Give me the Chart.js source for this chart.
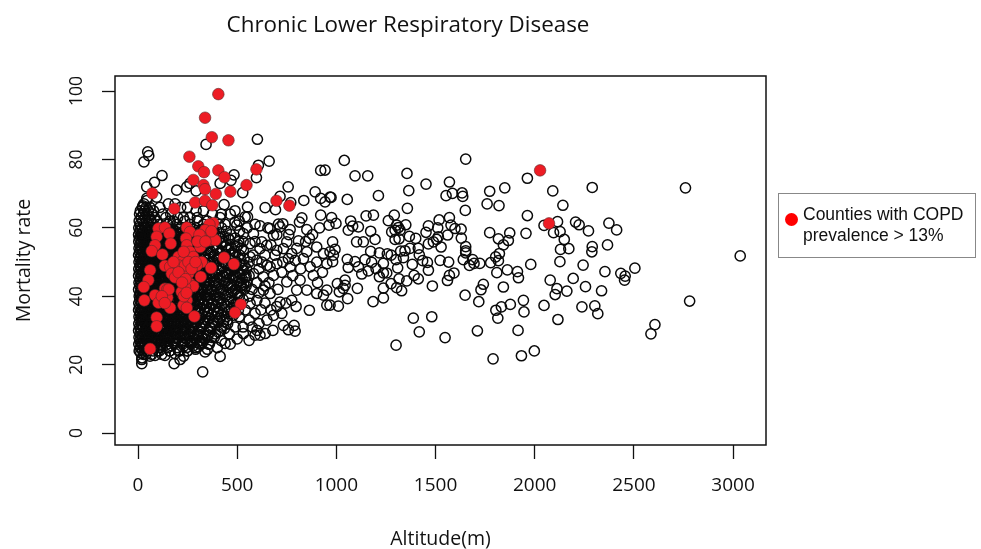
<!DOCTYPE html>
<html lang="en">
<head>
  <meta charset="UTF-8" />
  <title>Chronic Lower Respiratory Disease</title>
  <script src="https://cdn.jsdelivr.net/npm/chart.js"></script>
  <style>
    body { margin: 0; background: #fff; width: 981px; height: 549px; position: relative; overflow: hidden; }
    canvas { position: absolute; left: 0; top: 0; }
    #title { position: absolute; left: 108px; width: 600px; top: 8px; text-align: center; font: 22.4px "Open Sans", sans-serif; color: #111; }
    #legend { position: absolute; left: 778px; top: 193px; width: 196px; height: 63px; border: 1px solid #888; font: 17.5px/21px "Liberation Sans", sans-serif; color: #111; }
    #legend i { position: absolute; left: 6px; top: 19px; width: 13px; height: 13px; border-radius: 50%; background: #ff0000; }
    #legend span { position: absolute; left: 24px; top: 10px; white-space: nowrap; }
  </style>
</head>
<body>
  <canvas id="chart" width="981" height="549"></canvas>
  <div id="title">Chronic Lower Respiratory Disease</div>
  <div id="legend"><i></i><span>Counties with COPD<br>prevalence &gt; 13%</span></div>

  <script>
    const xTicks = [0, 500, 1000, 1500, 2000, 2500, 3000];
    const yTicks = [0, 20, 40, 60, 80, 100];

    // red counties, [altitude, mortality]
    const redCounties = [
      [405,99.1],[338,92.2],[372,86.5],[456,85.6],[259,80.8],[304,78],[333,76.3],[405,76.8],[436,74.8],[597,77.1],
      [279,74],[330,72.5],[338,71.3],[392,69.9],[466,70.6],[547,72.5],[72,70.1],[288,67.4],[338,67.9],[375,66.6],
      [183,65.6],[698,67.9],[763,66.5],[2027,76.8],[2072,61.3],
      [380,61.4],[360,61],[338,59.3],[321,57.4],[363,56.4],[389,56.4],[313,54.4],
      [103,59.8],[136,60.1],[158,58.3],[94,57.4],[86,54.9],[165,55.4],[69,53.2],[123,52.2],
      [246,60.1],[262,58.8],[242,56.9],[246,54.9],[262,53],[204,51.5],[237,51.5],[279,51.5],[321,50],[220,50],
      [262,49.5],[296,49],[136,48.9],[162,48.6],[170,46.6],[187,45.5],[220,47.6],[254,46.6],[316,45.7],[368,48.3],
      [434,51.3],[483,49.4],[61,47.6],[52,44.7],[29,42.7],[136,42.2],[148,42],[262,43.7],[279,42.9],[237,42.7],
      [220,41.3],[86,40.3],[148,39.6],[103,38.1],[32,38.8],[246,38.8],[229,37.4],[246,36.6],[162,36.6],[284,34.1],
      [518,37.6],[489,35.2],[94,33.8],[94,31.2],[61,24.6],
      [204,49],[230,53],[237,49],[254,50],[270,48],[290,50],[204,47],[179,50],[240,45],[231,40],
      [222,44],[245,41],[155,42],[120,40],[135,38],[310,58],[300,56],[370,59],[340,56]
    ];

    // the saturated mass near sea level, one list of altitudes per mortality rate
    const coreRates = [68,67,66,65,64,63,62,61,60,59,58,57,56,55,54,53,52,51,50,49,48,47,46,45,44,43,42,41,40,39,38,37,36,35,34,33,32,31,30,29,28,27,26,25,24,23,22];
    const coreAltitudes = [
      [45],
      [30,153,187],
      [22,41,60,249],
      [12,33,52,78,293],
      [8,27,45,70,125],
      [15,36,58,84,140,229,262,299,414],
      [6,24,43,66,95,162,178,236,300,350],
      [11,30,52,77,108,150,196,262,330,405,439],
      [4,20,38,61,88,119,143,172,214,250,290,352,421],
      [9,27,47,70,99,128,158,190,228,268,315,372,445],
      [3,18,34,55,80,106,137,166,203,240,281,333,392,468],
      [7,24,42,63,92,117,149,181,219,256,301,350,412,490],
      [4,16,35,52,76,101,129,160,192,231,270,312,364,428,508],
      [10,28,46,68,90,113,143,174,208,247,288,329,381,446],
      [5,20,38,57,81,104,131,158,189,225,262,303,349,402,471,521],
      [8,25,44,66,87,116,144,171,204,240,279,322,368,425,490],
      [3,17,33,52,74,97,125,153,183,218,255,294,338,387,443,512],
      [9,26,41,62,84,108,135,163,195,229,268,309,356,408,467,535],
      [5,19,36,55,76,98,122,148,177,210,246,284,326,375,431,498],
      [11,28,46,65,88,111,138,165,196,231,266,305,348,396,455,524],
      [4,16,32,51,72,94,119,144,172,206,241,279,321,367,420,482,548],
      [8,24,41,60,83,105,130,157,187,220,256,296,339,388,444,507],
      [3,18,35,54,75,97,122,149,178,211,247,286,329,375,429,493,560],
      [10,27,44,63,86,109,135,161,193,226,263,303,347,399,458,525],
      [5,20,37,56,78,100,126,152,182,216,252,292,335,381,436,502,548],
      [9,25,43,62,84,107,133,160,190,224,260,300,344,392,451,518],
      [3,16,33,52,74,96,121,147,177,209,245,284,327,373,428,491,536],
      [11,28,45,66,88,112,139,167,198,232,270,310,356,408,472],
      [6,21,38,57,79,102,127,154,184,218,254,294,338,385,441,510],
      [9,26,44,63,85,109,136,163,193,228,265,306,350,399,458],
      [4,18,34,53,75,98,124,150,180,213,250,289,332,378,432,498],
      [8,24,42,61,83,106,132,159,190,223,260,300,345,392,449],
      [3,17,35,54,76,99,125,153,182,216,253,292,336,382,437,506],
      [10,27,44,64,87,110,137,164,195,230,268,308,353,404,468],
      [5,20,38,57,78,102,128,156,186,220,257,297,342,388,445],
      [9,25,43,62,85,107,134,161,192,227,264,305,349,400],
      [4,18,34,54,76,99,126,152,183,217,254,293,337,384,452],
      [8,24,41,61,84,108,135,162,194,230,270,312,361],
      [3,17,36,55,77,101,128,155,187,222,262,305,356,418],
      [10,26,44,64,88,112,140,168,200,238,280,330,390],
      [5,20,38,58,82,106,133,162,196,234,278,326,372],
      [9,27,46,68,93,121,150,186,226,270,318],
      [4,19,37,60,86,116,147,182,224,268,312,355],
      [12,30,52,80,112,150,197,245,290],
      [6,24,44,76,108,160,204,248],
      [28,70],
      [20]
    ];

    // more of the same mass, at the half rates
    const coreHalfRates = [59.5,58.5,57.5,56.5,55.5,54.5,53.5,52.5,51.5,50.5,49.5,48.5,47.5,46.5,45.5,44.5,43.5,42.5,41.5,40.5,39.5,38.5,37.5,36.5,35.5,34.5,33.5,32.5,31.5,30.5,29.5,28.5,27.5,26.5,25.5];
    const coreHalfAltitudes = [
      [14,52,112,139,176,205,243,282,327,381],
      [23,74,121,152,181,222,259,296,348,410],
      [13,58,97,133,170,201,236,275,318,366,431],
      [29,68,109,146,177,213,250,291,337,394,462],
      [18,55,84,125,156,192,228,267,305,352,417],
      [33,72,112,148,181,217,249,284,326,376,441,497],
      [15,51,95,133,165,198,232,268,309,345,396,458],
      [26,62,106,141,172,207,238,276,314,358,412,476],
      [12,47,89,119,152,186,222,253,291,332,381,439,505],
      [31,68,104,137,168,201,235,271,307,349,403,464],
      [21,56,94,129,161,189,224,258,296,338,385,442,512],
      [13,43,79,116,147,182,214,249,286,328,374,431,495],
      [28,66,101,135,168,203,238,273,312,356,408,471,530],
      [19,52,90,125,158,190,227,261,301,343,392,450,516],
      [34,71,108,143,175,209,244,279,318,362,415,478,541],
      [14,48,85,119,154,187,221,257,295,338,386,443,508],
      [29,65,102,138,171,206,240,276,315,358,409,472,533],
      [18,54,91,126,160,193,229,265,304,349,401,462,522],
      [32,69,105,142,176,211,246,283,323,368,419,480],
      [13,50,87,122,156,191,226,262,301,345,393,450,503],
      [27,64,100,136,170,205,241,278,318,363,414,474],
      [16,53,92,127,162,196,232,270,308,352,404,466],
      [33,70,107,143,177,211,247,285,325,371,421,482],
      [20,57,94,130,166,200,236,273,313,359,410,470],
      [12,49,86,122,158,193,228,265,305,350,398,455],
      [30,67,104,140,174,208,244,281,323,369,422,481],
      [17,54,92,129,164,199,235,272,313,358,412],
      [34,71,109,145,180,215,251,289,330,376,431],
      [22,58,96,131,168,204,241,280,323,372,430],
      [13,47,86,124,160,197,235,276,320,368,435],
      [31,70,109,148,186,225,265,310,362,405],
      [20,57,97,136,176,216,258,302,352],
      [36,75,113,156,198,242,290,338],
      [15,52,97,135,180,222,262,298,325],
      [25,66,110,170,232,278]
    ];

    // open circles up to about 1000 m, [altitude, mortality]
    const lowCounties = [
      [602,85.9],[343,84.4],[49,82.2],[54,81.1],[30,79.3],[661,79.5],[607,78.3],[597,74.7],[484,75.5],[469,73.9],
      [121,75.3],[83,73.3],[44,72],[94,69],[44,68.6],[24,66.4],[195,71],[262,73],[246,72],[293,70.8],
      [414,73],[528,70.3],[757,72],[716,69.2],[770,67.4],[836,68],[693,65.3],[641,65.9],[552,66.1],[434,66.8],
      [489,65],[921,76.8],[943,76.9],[893,70.5],[921,68.6],[943,67.6],[968,69],[921,63.7],[826,62.9],[814,61.7],
      [915,60],[851,59.5],[963,60.8],[489,61.7],[540,63.2],[552,63.2],[498,60.8],[615,60.6],[666,59.8],[708,61.1],
      [730,61.2],[716,60.3],[767,59.5],[864,56.9],[809,56.2],[750,55.9],[683,57.8],[649,54.9],[624,55.9],[582,58.3],
      [531,58.3],[565,55.4],[615,53.9],[700,53.4],[733,53.9],[775,52.5],[851,53],[901,54.4],[935,52.5],[968,53],
      [758,51],[792,50.5],[834,51],[868,48.6],[901,50],[952,49.5],[767,48.6],[700,49.5],[666,48.6],[599,50.5],
      [565,51.5],[531,53.4],[582,46.6],[632,45.7],[683,46.1],[750,44.2],[817,44.7],[884,46.1],[851,41.8],[901,40.8],
      [952,41.8],[935,40.3],[800,41.8],[775,38.8],[797,37],[716,38.3],[683,34.4],[666,40.8],[632,41.8],[599,38.8],
      [565,37.9],[864,35.9],[952,37.4],[733,31.5],[758,30.2],[787,31.5],[792,29.8],[641,29.1],[615,28.6],[590,28.6],
      [560,27.1],[531,29.1],[439,26.2],[414,22.4],[338,23.7],[304,25.2],[212,21.5],[187,23.2],[182,20.3],[136,22.7],
      [120,23],[86,22.7],[19,20.3],[19,21.5],[14,23.4],[326,17.9]
    ];

    // the thinning edge of the mass, mostly 430 to 900 m
    const shoulderCounties = [
      [455,57],[512,59],[590,56],[640,52],[505,55],[560,50],[610,48],[480,52],[535,49],[650,49],
      [690,52],[545,46],[600,44],[575,42],[520,44],[640,43],[560,40],[500,41],[530,39],[610,41],
      [660,44],[705,42],[725,47],[480,46],[495,38],[540,36],[590,35],[470,36],[510,34],[560,33],
      [620,36],[650,33],[450,33],[490,31],[530,31],[575,31],[610,32],[420,31],[460,29],[500,27.5],
      [385,28],[420,27],[465,26],[360,26],[400,25],[320,26],[290,24.5],[250,24],[270,26.5],[350,24.5],
      [210,24],[230,22.5],[160,24],[100,24],[60,22.5],[40,23],[700,37],[670,36],[745,38],[725,35],
      [640,38],[600,30],[680,30],[545,43],[470,43],[460,48],[505,47],[530,56],[580,52],[625,50],
      [670,55],[730,50],[780,46],[820,48],[845,56],[880,58],[905,44],[930,47],[800,54],[760,58],
      [700,58],[655,60],[590,61],[550,60],[510,62],[465,64],[420,64],[375,64],[330,65],[215,66],
      [110,66],[165,64],[200,63]
    ];

    // open circles from 1000 to 2050 m
    const midCounties = [
      [1040,79.7],[1652,80.1],[1963,74.5],[1094,75.2],[1158,75.2],[1356,75.9],[1452,72.8],[1570,73.4],[1365,70.9],[1849,71.7],
      [1773,70.7],[1553,69.4],[1585,70.1],[1634,70.2],[1637,69.2],[1212,69.4],[1055,68.3],[973,68.9],[1760,67],[1820,66.5],
      [1358,65.7],[1650,65.1],[1963,63.6],[1292,63.7],[1187,63.7],[1150,63.5],[1570,63],[1518,62.3],[1262,62.1],[1072,62],
      [976,63],[998,61.3],[1464,60.6],[1350,60.9],[1304,60.8],[1313,60.1],[1279,58.8],[1296,59.3],[1321,59.3],[1082,60.5],
      [1111,60.3],[1060,59.3],[1173,59],[1511,60],[1578,60.8],[1598,59.8],[1629,59.6],[1452,58.7],[1773,58.6],[1874,58.5],
      [1956,58.4],[2047,60.7],[1561,57.9],[1368,57.5],[1400,56.9],[1316,56.8],[1296,56.6],[1195,56.6],[1514,57.4],[1506,56.6],
      [1489,55.9],[1817,56.8],[1867,56.3],[1630,57],[1464,55.3],[1528,54.4],[1842,55],[1102,55.9],[1136,55.9],[981,55.9],
      [993,53.7],[1413,54],[1371,54],[1346,53.3],[1324,53.2],[1652,54.5],[1652,53.3],[1652,52.7],[1173,53.1],[1217,52.7],
      [1257,52.4],[1276,52],[1418,52.1],[1301,50.7],[1338,51.3],[1144,50.7],[1055,50.8],[985,52],[981,50.1],[1094,50.1],
      [1178,49.9],[1237,49.6],[1435,50.4],[1459,49.9],[1523,50.5],[1566,50],[1640,50.7],[1687,50.7],[1671,49],[1694,49.6],
      [1723,49.6],[1778,49.8],[1803,51.5],[1822,52.5],[1817,50.4],[1980,49.3],[1060,48.4],[1111,48.6],[1161,47.4],[1200,48.1],
      [1309,48.3],[1383,49.3],[1464,47.6],[1809,46.9],[1862,47.7],[1913,47.2],[1918,45.4],[1128,46.5],[1217,45.7],[1237,46.8],
      [1254,46.8],[1392,46.1],[1413,45.1],[1593,46.8],[1570,46.1],[1560,44.6],[1316,45.1],[1355,44.5],[1276,43.7],[1484,43],
      [1741,43.5],[1729,41.9],[1842,42.7],[1005,43.7],[1044,44.7],[1044,43.2],[1106,42.3],[1035,42.3],[1015,41.3],[1237,42.4],
      [1304,42.5],[1329,41.6],[1057,39.3],[1185,38.4],[1237,39.5],[1649,40.3],[1718,38.4],[1010,37.1],[968,37.4],[1943,38.8],
      [1877,37.6],[1832,36.9],[1804,35.9],[1946,35.4],[1814,33.6],[2047,37.3],[1388,33.6],[1481,34],[1418,29.6],[1548,27.9],
      [1711,29.9],[1916,30],[1301,25.7],[1790,21.7],[1933,22.6],[1998,24]
    ];

    // open circles above 2050 m
    const highCounties = [
      [2091,70.8],[2290,71.8],[2760,71.7],[2142,66.6],[2115,61.8],[2206,61.7],[2224,60.9],[2374,61.4],[2413,59.4],[2271,59.1],
      [2095,58.6],[2128,58.9],[2149,56.6],[2130,53.7],[2172,53.9],[2290,54.5],[2288,53],[2367,55],[2127,50.1],[2244,49.1],
      [3036,51.8],[2354,47.2],[2505,48.2],[2434,46.7],[2456,45.9],[2453,44.7],[2194,45.2],[2256,42.8],[2078,44.7],[2112,42.2],
      [2103,40.5],[2162,41.5],[2337,41.6],[2238,36.9],[2303,37.2],[2318,34.9],[2117,33.2],[2781,38.6],[2606,31.7],[2586,29]
    ];

    const toPoint = ([x, y]) => ({ x, y });
    const rowsToPoints = (rates, rows) => rates.flatMap((rate, i) => rows[i].map(x => ({ x, y: rate })));
    const openPoints = rowsToPoints(coreRates, coreAltitudes).concat(
      rowsToPoints(coreHalfRates, coreHalfAltitudes),
      lowCounties.map(toPoint), shoulderCounties.map(toPoint), midCounties.map(toPoint), highCounties.map(toPoint));

    const frame = {
      id: "frame",
      afterDatasetsDraw(chart) {
        const { ctx, chartArea: a } = chart;
        ctx.save();
        ctx.strokeStyle = "#111";
        ctx.lineWidth = 1.5;
        ctx.strokeRect(a.left, a.top, a.right - a.left, a.bottom - a.top);
        ctx.restore();
      }
    };

    const titleFont = { family: "Open Sans", size: 19.5 };

    new Chart(document.getElementById("chart"), {
      type: "scatter",
      data: {
        datasets: [
          {
            label: "Counties with COPD prevalence > 13%",
            data: redCounties.map(toPoint),
            order: 0,
            pointRadius: 5.8,
            pointBackgroundColor: "#ed1c24",
            pointBorderColor: "#5a2a2a",
            pointBorderWidth: 0.6
          },
          {
            label: "Counties",
            data: openPoints,
            order: 1,
            pointRadius: 5.1,
            pointBackgroundColor: "transparent",
            pointBorderColor: "#0a0a0a",
            pointBorderWidth: 1.5
          }
        ]
      },
      options: {
        responsive: false,
        animation: false,
        layout: { padding: { top: 76, right: 215 } },
        plugins: { legend: { display: false }, tooltip: { enabled: false } },
        scales: {
          x: {
            type: "linear",
            min: -116,
            max: 3166,
            afterBuildTicks: s => { s.ticks = xTicks.map(value => ({ value })); },
            afterFit: s => { s.height = 104; },
            grid: { drawOnChartArea: false, tickLength: 14, tickColor: "#111", tickWidth: 1.3 },
            border: { display: false },
            ticks: { font: { family: "Open Sans", size: 19 }, color: "#111", padding: 15, maxRotation: 0, callback: v => String(v) },
            title: { display: true, text: "Altitude(m)", font: titleFont, color: "#111", padding: { top: 0, bottom: -2 } }
          },
          y: {
            min: -3.5,
            max: 104.4,
            afterBuildTicks: s => { s.ticks = yTicks.map(value => ({ value })); },
            afterFit: s => { s.width = 115; },
            grid: { drawOnChartArea: false, tickLength: 13, tickColor: "#111", tickWidth: 1.3 },
            border: { display: false },
            ticks: { font: { family: "Open Sans", size: 17.5 }, color: "#111", padding: 10, minRotation: 90, maxRotation: 90, crossAlign: "center", callback: v => String(v) },
            title: { display: true, text: "Mortality rate", font: titleFont, color: "#111", padding: { top: 13, bottom: 0 } }
          }
        }
      },
      plugins: [frame]
    });
  </script>
</body>
</html>
